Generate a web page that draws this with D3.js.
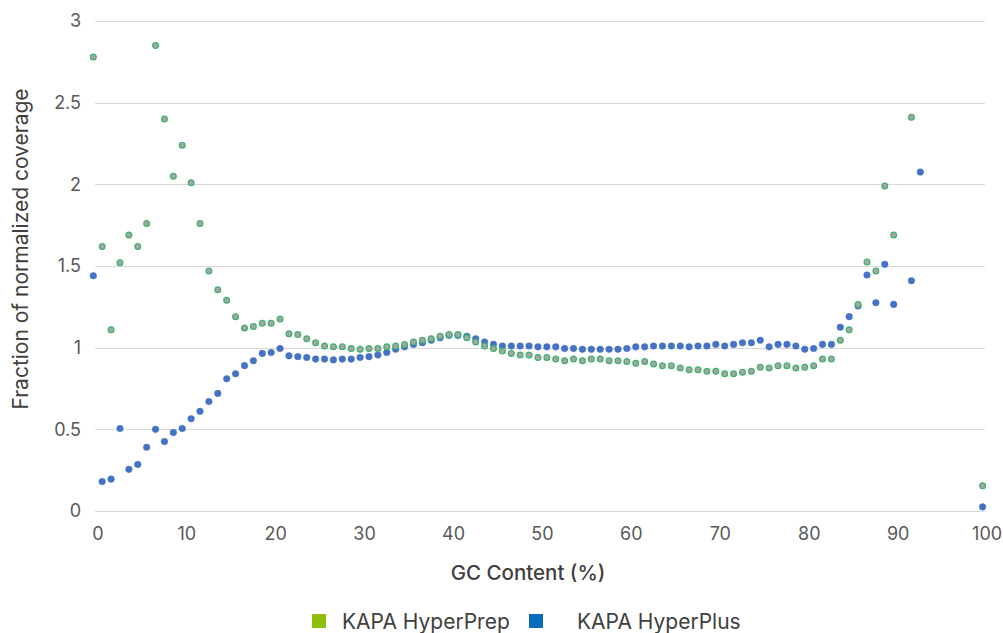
<!DOCTYPE html>
<html>
<head>
<meta charset="utf-8">
<script src="https://cdn.jsdelivr.net/npm/d3@7"></script>
<style>
  html, body { margin: 0; padding: 0; background: #ffffff; }
  svg { display: block; }
  text { font-family: Inter, "Noto Sans", sans-serif; }
</style>
</head>
<body>
<svg id="chart" width="1003" height="633"></svg>
<script>
// ---- Data ----
const seriesNames = ["KAPA HyperPrep", "KAPA HyperPlus"];

const gcHyperPrep = [
  0,1,2,3,4,5,6,7,8,9,10,11,12,13,14,15,16,17,18,19,20,21,22,23,24,25,26,27,28,29,
  30,31,32,33,34,35,36,37,38,39,40,41,42,43,44,45,46,47,48,49,50,51,52,53,54,55,56,57,58,59,
  60,61,62,63,64,65,66,67,68,69,70,71,72,73,74,75,76,77,78,79,80,81,82,83,84,85,86,87,88,89,
  90,92,100
];
const hyperPrep = [
  2.78,1.62,1.11,1.52,1.69,1.62,1.76,2.85,2.40,2.05,2.24,2.01,1.76,1.47,1.355,1.29,1.19,1.12,1.13,1.15,
  1.15,1.175,1.085,1.08,1.055,1.03,1.01,1.005,1.005,0.995,
  0.99,0.995,0.995,1.005,1.01,1.02,1.035,1.045,1.055,1.07,1.08,1.08,1.06,1.035,1.01,0.995,0.98,0.965,0.955,0.955,
  0.94,0.94,0.93,0.92,0.93,0.92,0.93,0.93,0.92,0.92,
  0.915,0.905,0.915,0.90,0.89,0.89,0.875,0.865,0.865,0.855,0.855,0.84,0.84,0.85,0.855,0.88,0.875,0.89,0.89,0.875,
  0.88,0.89,0.93,0.93,1.045,1.11,1.265,1.525,1.47,1.99,
  1.69,2.41,0.155
];

const gcHyperPlus = [
  0,1,2,3,4,5,6,7,8,9,10,11,12,13,14,15,16,17,18,19,20,21,22,23,24,25,26,27,28,29,
  30,31,32,33,34,35,36,37,38,39,40,41,42,43,44,45,46,47,48,49,50,51,52,53,54,55,56,57,58,59,
  60,61,62,63,64,65,66,67,68,69,70,71,72,73,74,75,76,77,78,79,80,81,82,83,84,85,86,87,88,89,
  90,92,93,100
];
const hyperPlus = [
  1.44,0.18,0.195,0.505,0.255,0.285,0.39,0.50,0.425,0.48,0.505,0.565,0.61,0.67,0.72,0.81,0.84,0.89,0.92,0.965,
  0.97,0.995,0.95,0.945,0.94,0.93,0.93,0.925,0.93,0.93,
  0.94,0.945,0.955,0.97,0.99,1.005,1.02,1.03,1.045,1.06,1.075,1.075,1.07,1.055,1.035,1.02,1.01,1.01,1.01,1.01,
  1.005,1.005,1.005,0.995,0.995,0.99,0.99,0.99,0.99,0.99,
  0.995,1.005,1.005,1.01,1.01,1.01,1.01,1.005,1.01,1.01,1.02,1.01,1.02,1.03,1.03,1.045,1.005,1.02,1.02,1.01,
  0.99,0.995,1.02,1.02,1.125,1.19,1.255,1.445,1.275,1.51,
  1.265,1.41,2.075,0.025
];

const xTicks = [0,10,20,30,40,50,60,70,80,90,100];
const yTicks = [0,0.5,1,1.5,2,2.5,3];
const xTitle = "GC Content (%)";
const yTitle = "Fraction of normalized coverage";

// ---- Layout ----
const svg = d3.select("#chart");
const plotLeft = 95, plotRight = 985, plotTop = 21, plotBottom = 511;

const x = d3.scaleLinear().domain([0, 100]).range([93.3, 982.6]);
const y = d3.scaleLinear().domain([0, 3]).range([plotBottom, plotTop]);

// gridlines
svg.append("g")
  .selectAll("line")
  .data(yTicks)
  .join("line")
  .attr("x1", plotLeft).attr("x2", plotRight)
  .attr("y1", d => Math.round(y(d)) + 0.5).attr("y2", d => Math.round(y(d)) + 0.5)
  .attr("stroke", "#d9d9d9").attr("stroke-width", 1);

// y axis labels
const yAxis = d3.axisLeft(y).tickValues(yTicks).tickSize(0).tickPadding(0)
  .tickFormat(d => String(d));
const gy = svg.append("g").attr("transform", "translate(81,0)").call(yAxis);
gy.select(".domain").remove();
gy.selectAll("text").attr("font-size", 18).attr("fill", "#595959")
  .attr("font-family", "Inter, 'Noto Sans', sans-serif");

// x axis labels
const xAxis = d3.axisBottom(x).tickValues(xTicks).tickSize(0).tickPadding(0)
  .tickFormat(d => String(d));
const gx = svg.append("g").attr("transform", "translate(4,527)").call(xAxis);
gx.select(".domain").remove();
gx.selectAll("text").attr("font-size", 18).attr("fill", "#595959")
  .attr("font-family", "Inter, 'Noto Sans', sans-serif");

// axis titles
svg.append("text")
  .attr("x", 528).attr("y", 580)
  .attr("text-anchor", "middle")
  .attr("font-size", 20.5).attr("font-weight", 500).attr("fill", "#404040")
  .text(xTitle);

svg.append("text")
  .attr("transform", "translate(28,249) rotate(-90)")
  .attr("text-anchor", "middle")
  .attr("font-size", 21).attr("fill", "#404040")
  .text(yTitle);

// points: HyperPlus (blue) first, HyperPrep (green) on top
const plusData = gcHyperPlus.map((g, i) => ({ gc: g, v: hyperPlus[i] }));
const prepData = gcHyperPrep.map((g, i) => ({ gc: g, v: hyperPrep[i] }));

svg.append("g")
  .selectAll("circle")
  .data(plusData)
  .join("circle")
  .attr("cx", d => x(d.gc)).attr("cy", d => y(d.v))
  .attr("r", 3.3)
  .attr("fill", "#4472c4")
  .attr("stroke", "#4a74c4").attr("stroke-width", 0.5);

svg.append("g")
  .selectAll("circle")
  .data(prepData)
  .join("circle")
  .attr("cx", d => x(d.gc)).attr("cy", d => y(d.v))
  .attr("r", 2.9)
  .attr("fill", "#a5a5a5")
  .attr("stroke", "#3cb46a").attr("stroke-width", 1.2);

// legend
const legendItems = [
  { name: seriesNames[0], color: "#8fbe0c", sx: 312, tx: 342 },
  { name: seriesNames[1], color: "#0a6cbf", sx: 529, tx: 577 }
];
const lg = svg.append("g");
lg.selectAll("rect")
  .data(legendItems)
  .join("rect")
  .attr("x", d => d.sx).attr("y", 614)
  .attr("width", 14).attr("height", 14)
  .attr("fill", d => d.color);
lg.selectAll("text")
  .data(legendItems)
  .join("text")
  .attr("x", d => d.tx).attr("y", 629)
  .attr("font-size", 21).attr("fill", "#404040")
  .text(d => d.name);
</script>
</body>
</html>
